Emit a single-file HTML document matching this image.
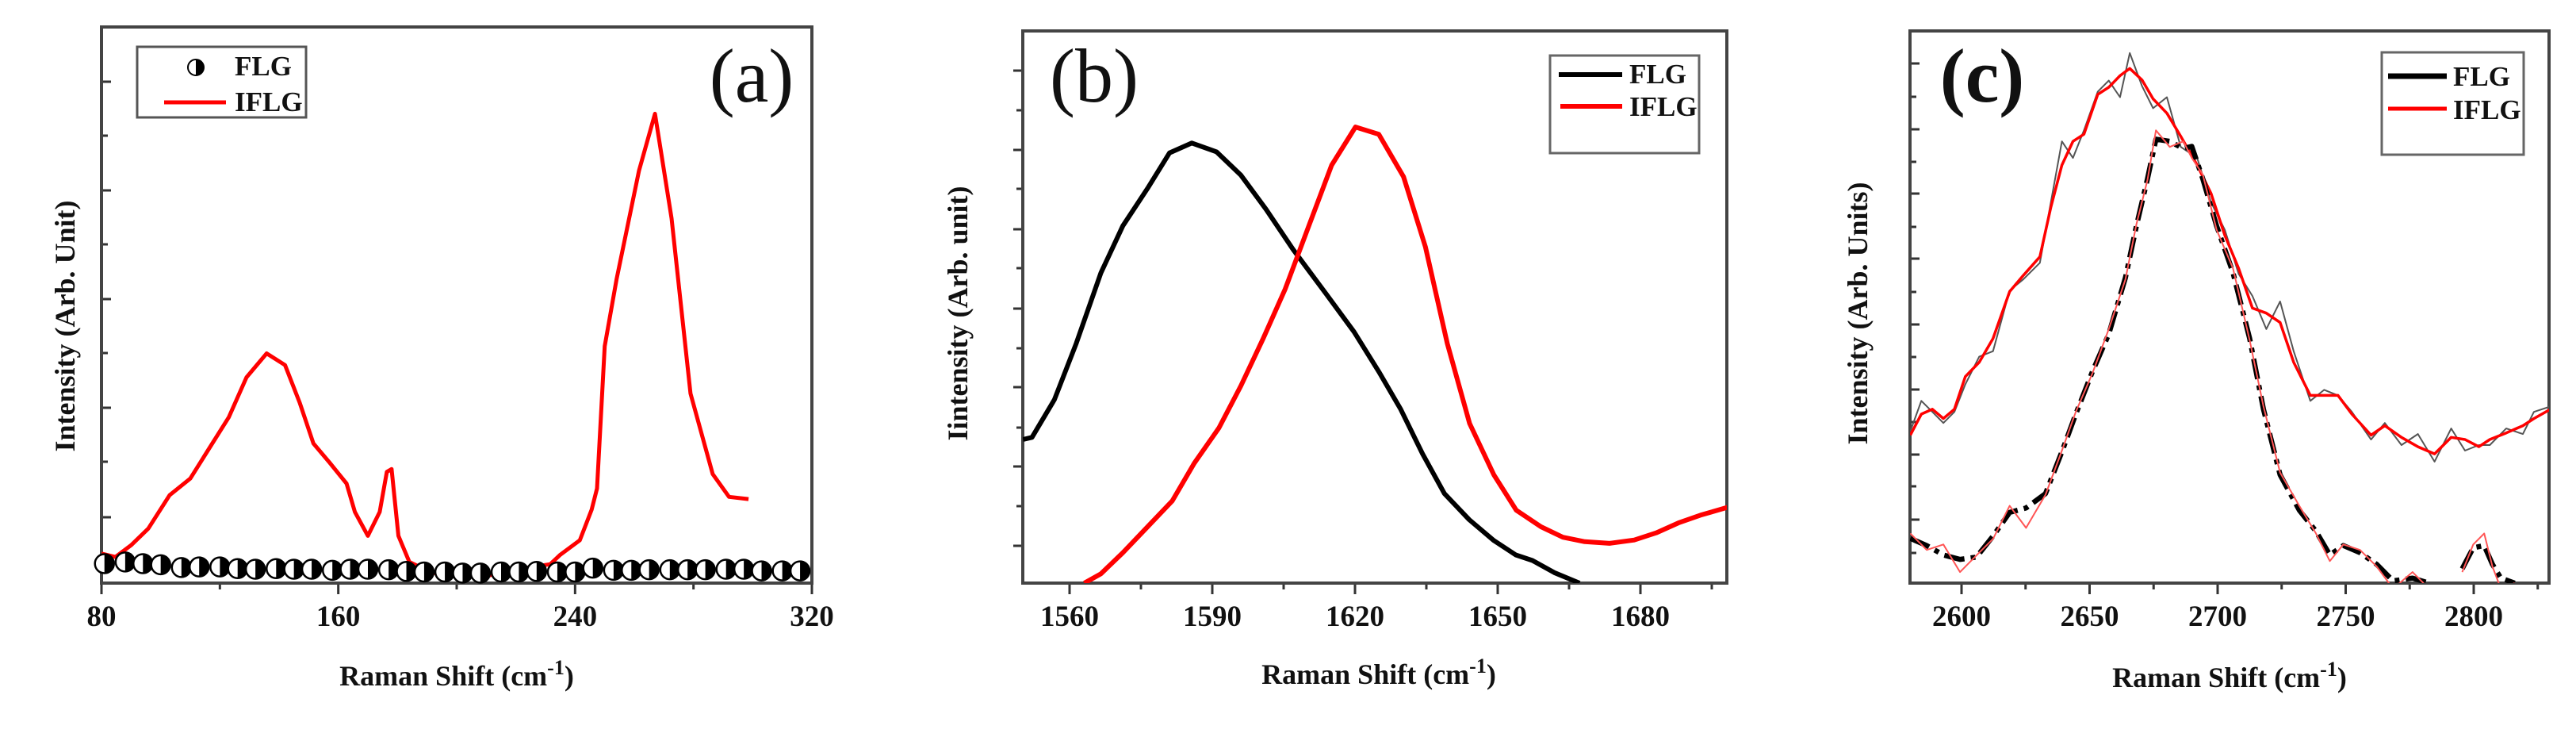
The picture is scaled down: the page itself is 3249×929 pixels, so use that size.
<!DOCTYPE html>
<html><head><meta charset="utf-8">
<style>
html,body{margin:0;padding:0;background:#fff;}
svg{display:block;}
svg text{font-family:"Liberation Serif","Times New Roman","DejaVu Serif",serif !important;fill:#111;}
.tk{font-weight:bold;font-size:37px;}
.ttl{font-weight:bold;font-size:36px;}
.lg{font-weight:bold;font-size:35px;}
.pl{font-size:96px;font-weight:normal;}
</style></head>
<body>
<svg id="fig" width="3249" height="929" viewBox="0 0 3249 929" xmlns="http://www.w3.org/2000/svg" font-family="Liberation Serif, serif">
<defs>
<clipPath id="clipA"><rect x="128" y="34" width="896" height="701"/></clipPath>
<clipPath id="clipB"><rect x="1290" y="39" width="888" height="696"/></clipPath>
<clipPath id="clipC"><rect x="2409" y="39" width="806" height="696"/></clipPath>
</defs>
</svg>
<script>
// ---- Panel (a) data ----
const aTicks = [80,160,240,320];
const aMinor = [120,200,280];
const aIflgX = [80,84.7,90,95.8,103,110,116,123,129,135.8,142,147,151.6,157,162.8,165.6,170,174,176.4,178,180.3,184,190.7,196,203.7,209,215,222,231.6,235,241.6,245.6,247.4,250,254,261.6,267,272.6,279,286.5,292,298.6];
const aIflgY = [5.3,4.7,6.8,9.8,15.8,18.8,23.9,29.8,37,41.3,39.2,32.4,25.1,21.7,17.9,12.8,8.5,12.8,20,20.5,8.5,3.8,2.1,1.3,1.7,1,2.1,2.6,3.4,5.1,7.7,13.2,17,42.6,54.6,74.2,84.4,65.6,34.1,19.6,15.5,15.1];
const aFlgX = [81,88,94,100,107,113,120,126,132,139,145,151,158,164,170,177,183,189,196,202,208,215,221,227,234,240,246,253,259,265,272,278,284,291,297,303,310,316];
const aFlgY = [3.5,3.8,3.5,3.3,2.8,2.9,2.9,2.6,2.5,2.6,2.5,2.5,2.3,2.5,2.5,2.4,2.1,2.0,2.0,1.8,1.8,2.0,2.0,2.1,2.0,2.0,2.7,2.3,2.3,2.4,2.4,2.4,2.4,2.5,2.5,2.2,2.2,2.2];
// ---- Panel (b) data ----
const bTicks = [1560,1590,1620,1650,1680];
const bMinor = [1575,1605,1635,1665,1695];
const bFlgX = [1550.2,1552.1,1556.8,1561.4,1566.6,1571.2,1576.4,1581,1585.7,1590.9,1596,1601.3,1607,1614,1619.8,1625,1629.6,1634.2,1638.8,1644,1649.2,1653.8,1657.3,1661.9,1667.2];
const bFlgY = [26,26.4,33.2,43.4,56.2,64.7,71.5,77.9,79.7,78.1,73.9,67.7,60.4,52.3,45.5,38.3,31.5,23.4,16.2,11.5,7.7,5.1,4.1,1.9,0];
const bIflgX = [1563.1,1566.6,1571.2,1576.4,1581.6,1586.2,1591.4,1596,1600.7,1605.3,1609.9,1615.1,1620.1,1625,1630.2,1634.8,1639.4,1644.1,1649.2,1653.9,1659.1,1663.7,1668.3,1673.5,1678.7,1683.3,1688,1692.6,1698.6];
const bIflgY = [0,1.7,5.5,10.2,14.9,21.7,28.1,35.7,44.3,53.2,63.8,75.7,82.6,81.3,73.6,60.9,43.4,28.9,19.6,13.2,10.2,8.3,7.5,7.2,7.8,9.1,10.9,12.3,13.8];
// ---- Panel (c) data ----
const cTicks = [2600,2650,2700,2750,2800];
const cMinor = [2625,2675,2725,2775,2825];
const cIflgX = [2580,2584.3,2588.6,2592.9,2597.2,2601.5,2606.9,2612.3,2618.8,2624.1,2630.6,2634.9,2639.2,2643.5,2647.8,2653.2,2657.5,2661.9,2665.7,2670.5,2674.8,2680.2,2685.6,2692,2697.4,2702.8,2708.2,2713.6,2719,2724.4,2729.7,2736.2,2741.6,2747,2752.4,2759.9,2765.3,2771.8,2778.2,2784.7,2791.2,2796.6,2802,2806.3,2812.7,2819.2,2823.5,2830];
const cIflgY = [26.8,30.6,31.5,29.8,31.5,37.4,40,44.3,52.8,55.7,59.1,68.1,75.7,80,81.3,88.5,89.8,91.9,93.2,91.1,87.7,85.1,80.9,75.7,70.6,63,57,49.8,48.9,47.2,40,34,34,34,30.6,26.8,28.5,26.4,24.7,23.4,26.4,26,24.7,26,27.2,28.5,29.8,31.5];
const cIflgRawY = [27.5,33,31,29,31,36,41,42,53,55,58,69,80,77,82,89,91,88,96,90,86,88,79,77,69,64,56,52,46,51,42,33,35,34,31,26,29,25,27,22,28,24,25,25,28,27,31,32];
const cFlgX = [2580,2586.4,2592.9,2599.4,2605.8,2612.3,2618.8,2625.2,2632.8,2639.2,2644.6,2651.1,2657.5,2664,2668.3,2672.6,2675.9,2681.3,2686.6,2689.9,2694.2,2699.6,2706,2712.5,2717.9,2724.4,2731.9,2738.4,2743.8,2749.1,2755.6,2762.1,2768.5,2776.1,2782.5];
const cFlgY = [8.1,6.8,5.1,4.3,4.7,8.5,12.8,13.6,16.2,23.8,30.6,38.3,45.1,55.3,64.7,73.2,80.4,80,78.7,79.1,73.2,64.7,56.2,44.3,31.5,19.6,13.2,9.4,5.1,6.8,5.5,3.4,0.4,0.9,0];
const cFlgRawY = [9,6,7,2,5,8,14,10,16,24,31,38,46,55,65,73,82,79,80,77,74,64,57,44,32,20,14,9,4,7,6,3,-1,2,-1];
const cFlg2X = [2795.5,2799.8,2804.1,2807.3,2810.6,2816];
const cFlg2Y = [2.6,6.4,6.8,3.4,0.9,0];
const cFlg2RawY = [2,7,9,3,-1,0];

const svg = document.getElementById('fig');
const NS = 'http://www.w3.org/2000/svg';
function mk(tag, attrs, parent){
  const e = document.createElementNS(NS, tag);
  for (const k in attrs) e.setAttribute(k, attrs[k]);
  (parent||svg).appendChild(e);
  return e;
}
function lin(d0,d1,r0,r1){ return v => r0 + (v-d0)/(d1-d0)*(r1-r0); }
function pathD(xs, ys, sx, sy){
  return xs.map((x,i)=>(i?'L':'M')+sx(x).toFixed(1)+','+sy(ys[i]).toFixed(1)).join(' ');
}

function axes(P){
  const g = mk('g',{});
  
  
  P.ticks.forEach(t=>{
    const l = mk('line',{x1:P.sx(t),x2:P.sx(t),y1:P.b,y2:P.b+14,stroke:'#333','stroke-width':3},g);
    
    
    const tx = mk('text',{x:P.sx(t),y:P.b+54,'text-anchor':'middle',class:'tk'},g);
    
    
    tx.textContent = t;
  });
  P.minor.forEach(t=>{
    const l = mk('line',{x1:P.sx(t),x2:P.sx(t),y1:P.b,y2:P.b+8,stroke:'#333','stroke-width':3},g);
    
    
  });
  P.yt.forEach((y,i)=>{
    const len = i%2===0 ? 12 : 8;
    const x2 = P.yin ? P.l+len : P.l-len;
    const l = mk('line',{x1:P.l,x2:x2,y1:y,y2:y,stroke:'#333','stroke-width':3},g);
    
    
  });
  const r = mk('rect',{x:P.l,y:P.t,width:P.r-P.l,height:P.b-P.t,fill:'none',stroke:'#444','stroke-width':4},g);
  
  
}

const A = {id:'panel-a', l:128, r:1024, t:34, b:735, ticks:aTicks, minor:aMinor, yin:true};
A.sx = lin(80,320,A.l,A.r); A.sy = lin(0,100,A.b,A.t);
A.yt = [103,171,240,308,377,445,514,582,652];
axes(A);
{
  const p = mk('path',{d:pathD(aIflgX,aIflgY,A.sx,A.sy),fill:'none',stroke:'#f00','stroke-width':5,'stroke-linejoin':'round','clip-path':'url(#clipA)'});
  
  
  aFlgX.forEach((x,i)=>{
    const cx=A.sx(x), cy=A.sy(aFlgY[i]);
    const c = mk('circle',{cx:cx,cy:cy,r:12,fill:'#fff',stroke:'#000','stroke-width':2.5});
    
    
    const h = mk('path',{d:`M${cx},${cy-12} A12,12 0 0 1 ${cx},${cy+12} Z`,fill:'#000'});
    
    
  });
}

const B = {id:'panel-b', l:1290, r:2178, t:39, b:735, ticks:bTicks, minor:bMinor, yin:false};
B.sx = lin(1560,1620,1349,1709); B.sy = lin(0,100,B.b,B.t);
B.yt = [89,139,189,238,289,338,389,439,488,539,588,638,688];
axes(B);
{
  const p1 = mk('path',{d:pathD(bFlgX,bFlgY,B.sx,B.sy),fill:'none',stroke:'#000','stroke-width':6,'stroke-linejoin':'round','clip-path':'url(#clipB)'});
  
  
  const p2 = mk('path',{d:pathD(bIflgX,bIflgY,B.sx,B.sy),fill:'none',stroke:'#f00','stroke-width':6,'stroke-linejoin':'round','clip-path':'url(#clipB)'});
  
  
}

const C = {id:'panel-c', l:2409, r:3215, t:39, b:735, ticks:cTicks, minor:cMinor, yin:true};
C.sx = lin(2600,2700,2474,2797); C.sy = lin(0,100,C.b,C.t);
C.yt = [80,122,163,204,244,286,326,368,409,450,491,532,573,613,655,697];
axes(C);
{
  const add=(xs,ys,st,w,name,dash)=>{
    const a={d:pathD(xs,ys,C.sx,C.sy),fill:'none',stroke:st,'stroke-width':w,'stroke-linejoin':'round','clip-path':'url(#clipC)'};
    if(dash) a['stroke-dasharray']=dash;
    const p = mk('path',a);
    
    
  };
  add(cIflgX,cIflgRawY,'#555',2,'panel-c-iflg-raw-line');
  add(cIflgX,cIflgY,'#f00',3.5,'panel-c-iflg-smooth-line');
  add(cFlgX,cFlgY,'#000',6.5,'panel-c-flg-line','26 8 6 8');
  add(cFlg2X,cFlg2Y,'#000',6.5,'panel-c-flg-line-tail','26 8 6 8');
  add(cFlgX,cFlgRawY,'#f55',2,'panel-c-flg-raw-line');
  add(cFlg2X,cFlg2RawY,'#f55',2,'panel-c-flg-raw-tail');
}
</script>
<svg style="position:absolute;left:0;top:0" width="3249" height="929" xmlns="http://www.w3.org/2000/svg" font-family="Liberation Serif, serif">
<text x="576" y="864" text-anchor="middle" class="ttl">Raman Shift (cm<tspan dy="-14" font-size="26">-1</tspan><tspan dy="14">)</tspan></text>
<text transform="translate(94,411) rotate(-90)" text-anchor="middle" class="ttl">Intensity (Arb. Unit)</text>
<text x="948" y="128" text-anchor="middle" class="pl">(a)</text>
<g>
<rect x="173" y="59" width="213" height="89" fill="#fff" stroke="#555" stroke-width="3"/>
<circle cx="247" cy="85" r="10" fill="#fff" stroke="#000" stroke-width="2"/>
<path d="M247,75 A10,10 0 0 1 247,95 Z" fill="#000"/>
<line x1="207" y1="129" x2="285" y2="129" stroke="#f00" stroke-width="5"/>
<text x="296" y="95" class="lg">FLG</text>
<text x="296" y="140" class="lg">IFLG</text>
</g>
<text x="1739" y="862" text-anchor="middle" class="ttl">Raman Shift (cm<tspan dy="-14" font-size="26">-1</tspan><tspan dy="14">)</tspan></text>
<text transform="translate(1220,395) rotate(-90)" text-anchor="middle" class="ttl">Iintensity (Arb. unit)</text>
<text x="1380" y="128" text-anchor="middle" class="pl">(b)</text>
<g>
<rect x="1955" y="70" width="188" height="123" fill="#fff" stroke="#666" stroke-width="3"/>
<line x1="1966" y1="94" x2="2046" y2="94" stroke="#000" stroke-width="6"/>
<line x1="1968" y1="134" x2="2046" y2="134" stroke="#f00" stroke-width="6"/>
<text x="2055" y="105" class="lg">FLG</text>
<text x="2055" y="146" class="lg">IFLG</text>
</g>
<text x="2812" y="866" text-anchor="middle" class="ttl">Raman Shift (cm<tspan dy="-14" font-size="26">-1</tspan><tspan dy="14">)</tspan></text>
<text transform="translate(2355,395) rotate(-90)" text-anchor="middle" class="ttl">Intensity (Arb. Units)</text>
<text x="2500" y="128" text-anchor="middle" class="pl" style="font-weight:bold">(c)</text>
<g>
<rect x="3004" y="66" width="179" height="129" fill="#fff" stroke="#666" stroke-width="3"/>
<line x1="3012" y1="96" x2="3086" y2="96" stroke="#000" stroke-width="7"/>
<line x1="3012" y1="137" x2="3086" y2="137" stroke="#f00" stroke-width="5"/>
<text x="3094" y="108" class="lg">FLG</text>
<text x="3094" y="150" class="lg">IFLG</text>
</g>
</svg>
</body></html>
